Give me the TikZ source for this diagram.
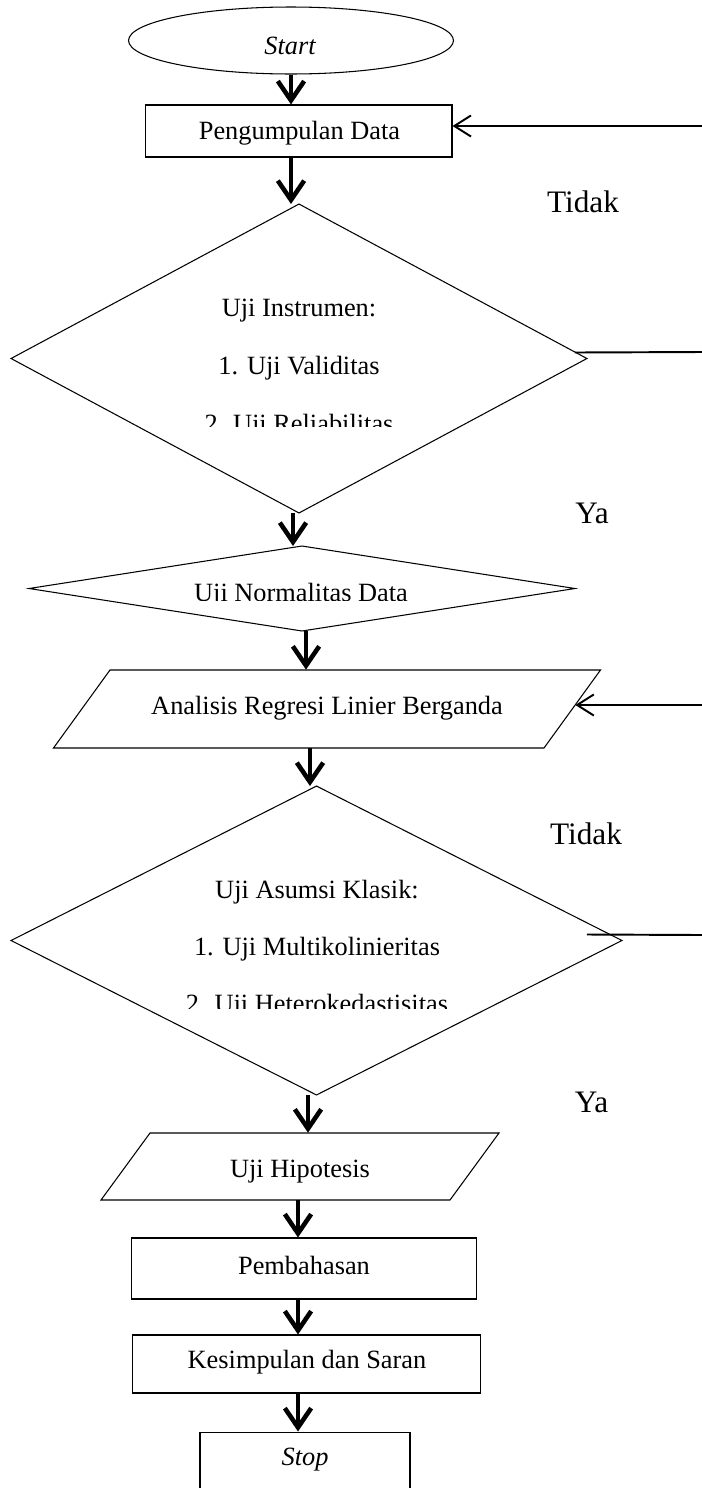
\documentclass[tikz,border=0pt]{standalone}
\usepackage{fontspec}
\setmainfont{Liberation Serif}
\usetikzlibrary{shapes.geometric,arrows.meta,calc}
\begin{document}
\begin{tikzpicture}[x=0.02cm,y=-0.02cm,
  shapeline/.style={draw=black, line width=0.6pt},
  box/.style={shapeline, rectangle, inner sep=0pt},
  dia/.style={shapeline, diamond, inner sep=0pt, outer sep=0pt},
  term/.style={shapeline, ellipse, inner sep=0pt},
  ghost/.style={rectangle, inner sep=0pt, draw=none},
  txt/.style={font=\fontsize{15}{18}\selectfont, inner sep=0pt, anchor=base},
  lbl/.style={font=\fontsize{17.8}{21}\selectfont, inner sep=0pt, anchor=base},
  flow/.style={line width=2.6pt, -{Straight Barb[length=11pt,width=15pt]}},
  back/.style={line width=1.1pt, -{Straight Barb[length=9.5pt,width=12pt]}},
  ret/.style={line width=1.1pt}]
\useasboundingbox (0,0) rectangle (702,1488);

% Start
\node[term, minimum width=6.5cm, minimum height=1.34cm] (start) at (291,40.5) {};
\node[txt] (startt) at (290,54) {\itshape Start};

% Pengumpulan Data
\node[box, minimum width=6.14cm, minimum height=1.04cm] (pd) at (298.5,131) {};
\node[txt] (pdt) at (299.5,139) {Pengumpulan Data};

% Uji Instrumen
\node[dia, minimum width=11.52cm, minimum height=6.18cm] (d1) at (299,358.5) {};
\node[txt] (d1a) at (299,316) {Uji Instrumen:};
\node[txt] (d1b) at (299,374) {1. Uji Validitas};
\begin{scope}
  \clip (0,0) rectangle (702,426);
  \node[txt] (d1c) at (299,432) {2. Uji Reliabilitas};
\end{scope}

% Uji Normalitas
\node[dia, minimum width=10.92cm, minimum height=1.7cm] (d2) at (302,588.5) {};
\begin{scope}
  \clip (0,0) rectangle (702,600);
  \node[txt] (d2t) at (301,601) {Uji Normalitas Data};
\end{scope}

% Analisis Regresi
\node[ghost, minimum width=9.92cm, minimum height=1.56cm] (an) at (327,709) {};
\draw[shapeline] ($(an.center)+(-217,-39)$) -- ($(an.center)+(273.5,-39)$)
  -- ($(an.center)+(217,39)$) -- ($(an.center)+(-273.5,39)$) -- cycle;
\node[txt] (ant) at (327,714) {Analisis Regresi Linier Berganda};

% Uji Asumsi Klasik
\node[dia, minimum width=12.22cm, minimum height=6.18cm] (d3) at (316.5,940.5) {};
\node[txt] (d3a) at (317,898) {Uji Asumsi Klasik:};
\node[txt] (d3b) at (317,955) {1. Uji Multikolinieritas};
\begin{scope}
  \clip (0,0) rectangle (702,1008);
  \node[txt] (d3c) at (317,1012) {2. Uji Heterokedastisitas};
\end{scope}

% Uji Hipotesis
\node[ghost, minimum width=6.98cm, minimum height=1.34cm] (hip) at (300,1166.5) {};
\draw[shapeline] ($(hip.center)+(-150,-33.5)$) -- ($(hip.center)+(199,-33.5)$)
  -- ($(hip.center)+(150,33.5)$) -- ($(hip.center)+(-199,33.5)$) -- cycle;
\node[txt] (hipt) at (300,1177) {Uji Hipotesis};

% Pembahasan
\node[box, minimum width=6.92cm, minimum height=1.22cm] (pemb) at (304,1268.5) {};
\node[txt] (pembt) at (304,1274) {Pembahasan};

% Kesimpulan
\node[box, minimum width=6.98cm, minimum height=1.16cm] (kes) at (306.5,1364) {};
\node[txt] (kest) at (307,1368) {Kesimpulan dan Saran};

% Stop
\node[box, minimum width=4.2cm, minimum height=1.8cm] (stop) at (305,1477) {};
\node[txt] (stopt) at (305,1465) {\itshape Stop};

% Labels
\node[lbl] (tidak1) at (583,212) {Tidak};
\node[lbl] (ya1) at (592,523) {Ya};
\node[lbl] (tidak2) at (586,844) {Tidak};
\node[lbl] (ya2) at (591.5,1112) {Ya};

% Main flow arrows
\draw[flow] (start.south) -- (start.south |- pd.north);
\draw[flow] ($(pd.south)+(-7.5,0)$) coordinate (a2) -- (a2 |- d1.north);
\draw[flow] ($(d1.south)+(-6,0)$) coordinate (a3) -- (a3 |- d2.north);
\draw[flow] ($(d2.south)+(4,0)$) coordinate (a4) -- (a4 |- an.north);
\draw[flow] ($(an.south)+(-17,0)$) coordinate (a5) -- (a5 |- d3.north);
\draw[flow] ($(d3.south)+(-8.5,0)$) coordinate (a6) -- (a6 |- hip.north);
\draw[flow] ($(hip.south)+(-2,0)$) coordinate (a7) -- (a7 |- pemb.north);
\draw[flow] ($(pemb.south)+(-6,0)$) coordinate (a8) -- (a8 |- kes.north);
\draw[flow] ($(kes.south)+(-8.5,0)$) coordinate (a9) -- (a9 |- stop.north);

% Return lines (Tidak)
\coordinate (r1a) at (702,352);
\coordinate (r1b) at ($(d1.east)+(-12,-6)$);
\draw[ret] (r1b) -- (r1a);
\coordinate (r1c) at (702,126);
\draw[back] (r1c) -- (r1c -| pd.east);

\coordinate (r3a) at (702,935);
\coordinate (r3b) at ($(d3.east)+(-35,-6)$);
\draw[ret] (r3b) -- (r3a);
\coordinate (r2c) at (702,705);
\draw[back] (r2c) -- (r2c -| an.east);
\end{tikzpicture}
\end{document}
